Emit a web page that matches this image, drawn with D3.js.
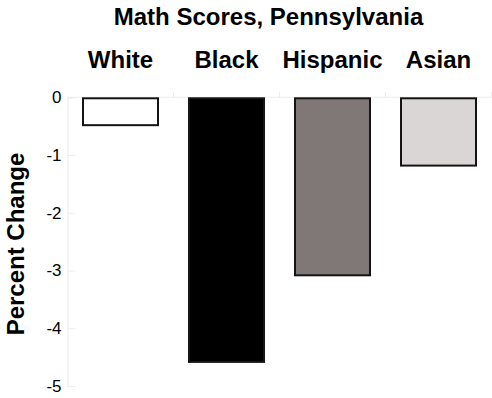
<!DOCTYPE html>
<html>
<head>
<meta charset="utf-8">
<script src="https://cdn.jsdelivr.net/npm/d3@7"></script>
<style>
  html, body { margin: 0; padding: 0; background: #fff; }
  svg { display: block; font-family: "Liberation Sans", Arial, Helvetica, sans-serif; }
</style>
</head>
<body>
<svg id="chart" width="492" height="398"></svg>
<script>
const categories = ["White", "Black", "Hispanic", "Asian"];
const values = [-0.5, -4.6, -3.1, -1.2];
const fills = ["#ffffff", "#000000", "#807876", "#dbd6d6"];
const yTicks = [0, -1, -2, -3, -4, -5];
const title = "Math Scores, Pennsylvania";
const yLabel = "Percent Change";

const svg = d3.select("#chart");
const plotLeft = 67.5, plotRight = 491.5, plotTop = 97.3, plotBottom = 386;

const x = d3.scaleBand().domain(categories).range([plotLeft, plotRight])
  .paddingInner(0.2736).paddingOuter(0.1368);
const y = d3.scaleLinear().domain([0, -5]).range([plotTop, plotBottom]);

// y axis
const yAxis = d3.axisRight(y).tickValues(yTicks).tickSize(8).tickFormat(d => String(d));
const gy = svg.append("g").attr("transform", `translate(${plotLeft},0)`).call(yAxis);
gy.select(".domain").attr("stroke", "#ececec").attr("stroke-width", 1);
gy.selectAll(".tick line").attr("stroke", "#ececec");
gy.selectAll(".tick text")
  .attr("x", -6).attr("text-anchor", "end")
  .attr("font-size", 17).attr("fill", "#000")
  .style("font-family", '"Liberation Sans", Arial, sans-serif');

// zero baseline
svg.append("line")
  .attr("x1", plotLeft).attr("x2", plotRight)
  .attr("y1", y(0)).attr("y2", y(0))
  .attr("stroke", "#ececec");

// band boundary ticks
const step = x.step();
svg.append("g").selectAll("line").data(categories).join("line")
  .attr("x1", d => x(d) + x.bandwidth() + step * x.paddingInner() / 2)
  .attr("x2", d => x(d) + x.bandwidth() + step * x.paddingInner() / 2)
  .attr("y1", y(0) - 5).attr("y2", y(0))
  .attr("stroke", "#ececec");

// bars
svg.append("g").selectAll("rect").data(categories).join("rect")
  .attr("x", d => x(d) + 1)
  .attr("width", x.bandwidth() - 2)
  .attr("y", (d, i) => y(0) + 1)
  .attr("height", (d, i) => y(values[i]) - y(0) - 2)
  .attr("fill", (d, i) => fills[i])
  .attr("stroke", "#141414")
  .attr("stroke-width", 2);

// category labels
svg.append("g").selectAll("text").data(categories).join("text")
  .attr("x", d => x(d) + x.bandwidth() / 2)
  .attr("y", 68)
  .attr("text-anchor", "middle")
  .attr("font-size", 24)
  .attr("font-weight", "bold")
  .text(d => d);

// title
svg.append("text")
  .attr("x", 268.5).attr("y", 25)
  .attr("text-anchor", "middle")
  .attr("font-size", 24)
  .attr("font-weight", "bold")
  .text(title);

// y label
svg.append("text")
  .attr("transform", `translate(24,244) rotate(-90)`)
  .attr("text-anchor", "middle")
  .attr("font-size", 24)
  .attr("font-weight", "bold")
  .text(yLabel);
</script>
</body>
</html>
